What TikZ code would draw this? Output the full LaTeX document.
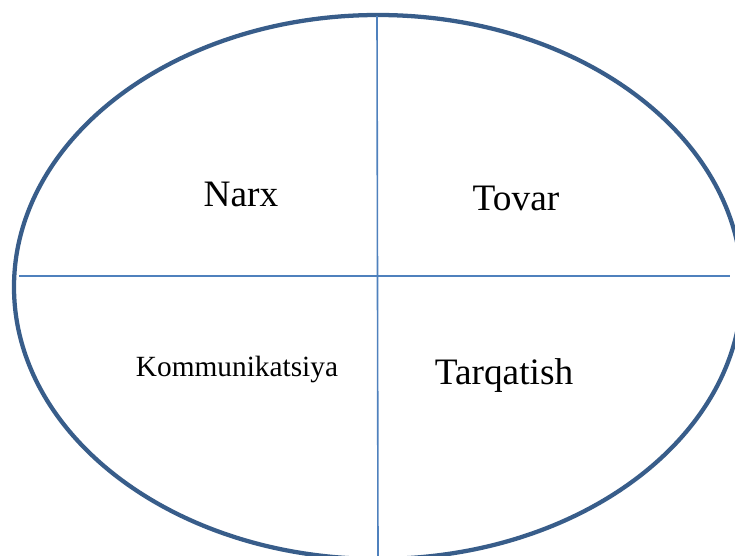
\documentclass[tikz,border=0pt]{standalone}
\usepackage{fontspec}
\setmainfont{Liberation Serif}
\usepackage{tikz}
\usetikzlibrary{positioning,calc}

\definecolor{rimblue}{HTML}{385D8A}
\definecolor{crossblue}{HTML}{4F81BD}

\tikzset{
  rim/.style={draw=rimblue, line width=3.2pt},
  cross/.style={draw=crossblue, line width=1.2pt},
  bigword/.style={anchor=base, font=\fontsize{28}{31}\selectfont},
  smallword/.style={anchor=base, font=\fontsize{22}{25}\selectfont}
}

\begin{document}
\begin{tikzpicture}[x=0.75pt, y=-0.75pt]

% Page frame, the oval runs past the right and bottom edges
\useasboundingbox (0,0) rectangle (735,556);
\clip (0,0) rectangle (735,556);

% Oval
\coordinate (mid) at (378,287);
\draw[rim] (mid) ellipse [x radius=273pt, y radius=204pt];

% Cross lines
\coordinate (westend) at (19,276);
\coordinate (eastend) at (730,276);
\coordinate (northend) at (377,16);
\coordinate (southend) at (378,556);
\draw[cross] (westend) -- (eastend);
\draw[cross] (northend) -- (southend);

% Quarter labels
\node[bigword] (narx) at (241,206) {Narx};
\node[bigword] (tovar) at (516,210) {Tovar};
\node[smallword] (komm) at (237,376) {Kommunikatsiya};
\node[bigword] (tarq) at (504,384) {Tarqatish};

\end{tikzpicture}
\end{document}
